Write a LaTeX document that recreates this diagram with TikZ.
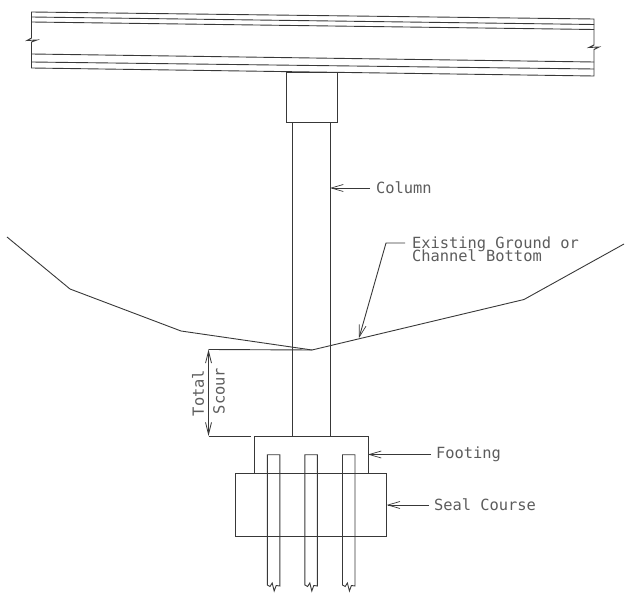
\documentclass[tikz,border=0pt]{standalone}
\usepackage{fontspec}
\setmainfont{DejaVu Sans Mono}
\usetikzlibrary{arrows.meta}
\definecolor{cadline}{gray}{0.22}
\definecolor{cadtext}{gray}{0.36}
\tikzset{
  cad/.style={draw=cadline,line width=0.9pt,line join=miter},
  part/.style={cad,rectangle,inner sep=0pt,outer sep=0pt},
  leader/.style={draw=cadline,line width=0.9pt,-{Straight Barb[length=12pt,width=7pt,line width=0.7pt]}},
  dimline/.style={draw=cadline,line width=0.9pt,{Straight Barb[length=12pt,width=6pt,line width=0.8pt]}-{Straight Barb[length=12pt,width=6pt,line width=0.8pt]}},
  lbl/.style={text=cadtext,font=\fontsize{15.4pt}{12pt}\selectfont,inner sep=0pt,outer sep=5pt,align=left}
}
\begin{document}
\begin{tikzpicture}[x=1pt,y=-1pt]
\useasboundingbox (0,0) rectangle (630,599);
% deck
\draw[cad] (31.5,12) -- (594,19) -- (594,45) -- (589,47.5) -- (599,47) -- (594,49.5) -- (594,76) -- (31.5,68) -- (31.5,42) -- (37,40) -- (27,40.5) -- (31.5,38) -- cycle;
\draw[cad] (31.5,17) -- (594,24.5);
\draw[cad] (31.5,22) -- (594,29.5);
\draw[cad] (31.5,54) -- (594,62);
\draw[cad] (31.5,62) -- (594,69);
% column and cap
\node[part,minimum width=51pt,minimum height=50pt] (cap) at (311.5,97) {};
\node[part,minimum width=38pt,minimum height=314pt] (column) at (311,279) {};
% footing and seal
\node[part,minimum width=113.5pt,minimum height=37.5pt] (footing) at (311.25,454.75) {};
\node[part,minimum width=151pt,minimum height=63pt] (seal) at (311.2,505) {};
% piles
\foreach \x in {267.3,304.9,342.5}{
  \draw[cad] (\x,454.7) -- (\x,585) -- ++(2.7,1.5) -- ++(2.2,-3.5) -- ++(2,8) -- ++(2,-5.5) -- ++(3.6,0.5) -- ++(0,-131.3) -- cycle;
}
% ground
\coordinate (g1) at (7,237);
\coordinate (g2) at (70,289);
\coordinate (g3) at (181,331);
\coordinate (g4) at (312,350);
\coordinate (g5) at (524,299.5);
\coordinate (g6) at (624,244);
\draw[cad] (g1) -- (g2) -- (g3) -- (g4) -- (g5) -- (g6);
% scour dimension
\coordinate (st) at (208.5,349.5);
\coordinate (sb) at (208.5,436);
\coordinate (se) at (251,436);
\draw[cad] (st) -- (g4);
\draw[cad] (sb) -- (se);
\draw[dimline] (st) -- (sb);
\node[lbl,rotate=90] (total) at (198,393) {Total};
\node[lbl,rotate=90] (scour) at (219,391) {Scour};
% labels
\node[lbl,anchor=west,outer sep=6pt] (lcol) at (370,188) {Column};
\node[lbl,anchor=west,outer sep=5pt] (lfoot) at (431,454.5) {Footing};
\node[lbl,anchor=west,outer sep=5pt] (lseal) at (429,505) {Seal Course};
\node[lbl,anchor=north west,outer sep=0pt] (lgnd) at (412,236.5) {Existing Ground or\\[-3.2pt]Channel Bottom};
\draw[leader] (lcol.west) -- (column.east |- lcol.west);
\draw[leader] (lfoot.west) -- (footing.east |- lfoot.west);
\draw[leader] (lseal.west) -- (seal.east |- lseal.west);
\coordinate (gtip) at (359,338);
\coordinate (gbend) at (386,243);
\coordinate (gstart) at (405,243);
\draw[leader] (gstart) -- (gbend) -- (gtip);
\end{tikzpicture}
\end{document}
